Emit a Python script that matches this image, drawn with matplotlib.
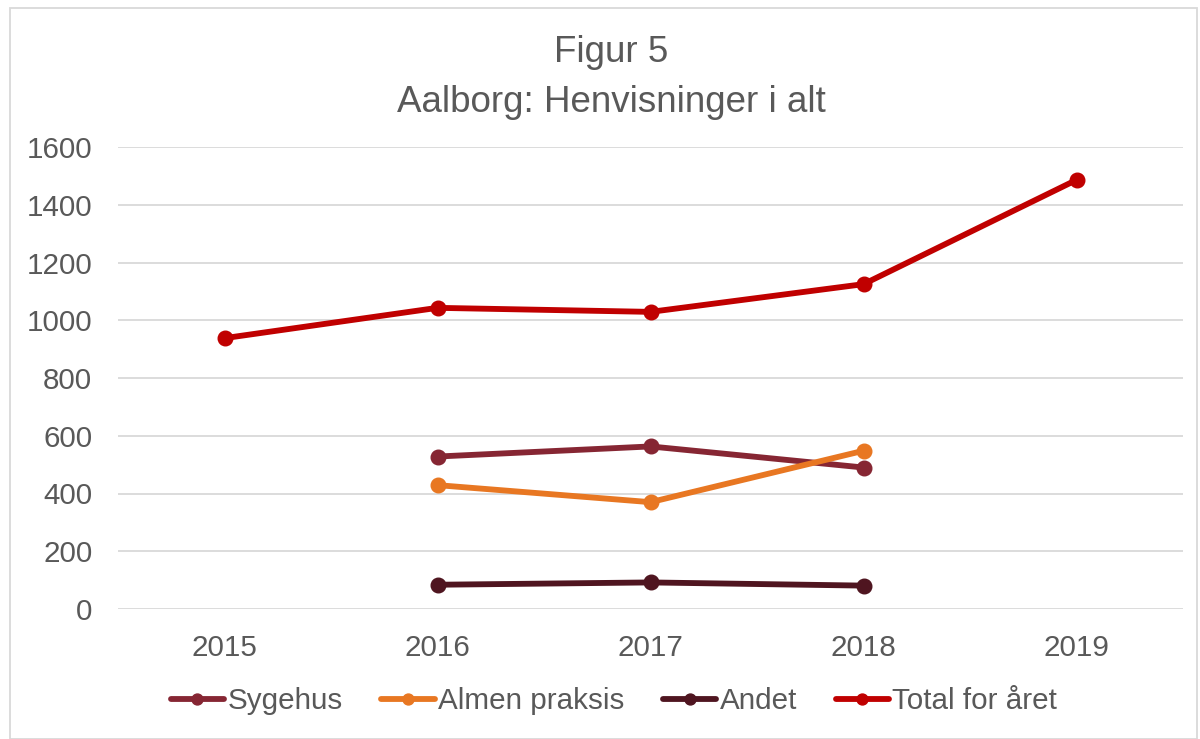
import matplotlib
matplotlib.use("Agg")
import matplotlib.pyplot as plt
from matplotlib.patches import Rectangle

plt.rcParams['font.family'] = ['Liberation Sans', 'DejaVu Sans']

years = ["2015", "2016", "2017", "2018", "2019"]
sygehus = [None, 528, 563, 490, None]
almen = [None, 429, 370, 548, None]
andet = [None, 84, 92, 81, None]
total = [938, 1043, 1029, 1125, 1486]

series = [
    ("Sygehus", sygehus, "#862633"),
    ("Almen praksis", almen, "#E87722"),
    ("Andet", andet, "#4F1520"),
    ("Total for året", total, "#C00000"),
]

text_color = "#595959"

fig = plt.figure(figsize=(12, 7.39), dpi=100)
ax = fig.add_axes([118/1200, 1-609/739, (1183-118)/1200, (609-147)/739])

x = list(range(len(years)))
for name, vals, col in series:
    xs = [i for i, v in zip(x, vals) if v is not None]
    ys = [v for v in vals if v is not None]
    ax.plot(xs, ys, color=col, lw=4.2, marker='o', ms=10.5, label=name,
            solid_capstyle='round', zorder=3)

ax.set_xlim(-0.5, 4.5)
ax.set_ylim(0, 1600)
ax.set_yticks(range(0, 1601, 200))
ax.set_xticks(x)
ax.set_xticklabels(years)
ax.grid(axis='y', color='#D9D9D9', lw=1.3)
ax.set_axisbelow(True)
for s in ax.spines.values():
    s.set_visible(False)
ax.tick_params(axis='both', length=0, labelsize=21.3, colors=text_color)
ax.tick_params(axis='y', pad=18.5)
ax.tick_params(axis='x', pad=18)

fig.text(611/1200, 1-61.5/739, "Figur 5", ha='center', va='baseline', fontsize=26.5, color=text_color)
fig.text(611/1200, 1-112.5/739, "Aalborg: Henvisninger i alt", ha='center', va='baseline', fontsize=26.5, color=text_color)

leg = fig.legend(loc='center', bbox_to_anchor=(614/1200, 1-701/739), ncol=4, frameon=False,
                 fontsize=21.3, handlelength=1.8, handletextpad=0.12, columnspacing=1.3,
                 markerscale=0.75, labelcolor=text_color)

fig.patches.append(Rectangle((10/1200, 0), (1197-10)/1200, 1-8/739, transform=fig.transFigure,
                             fill=False, edgecolor='#D9D9D9', lw=1.3))

fig.savefig("out.png", dpi=100)
